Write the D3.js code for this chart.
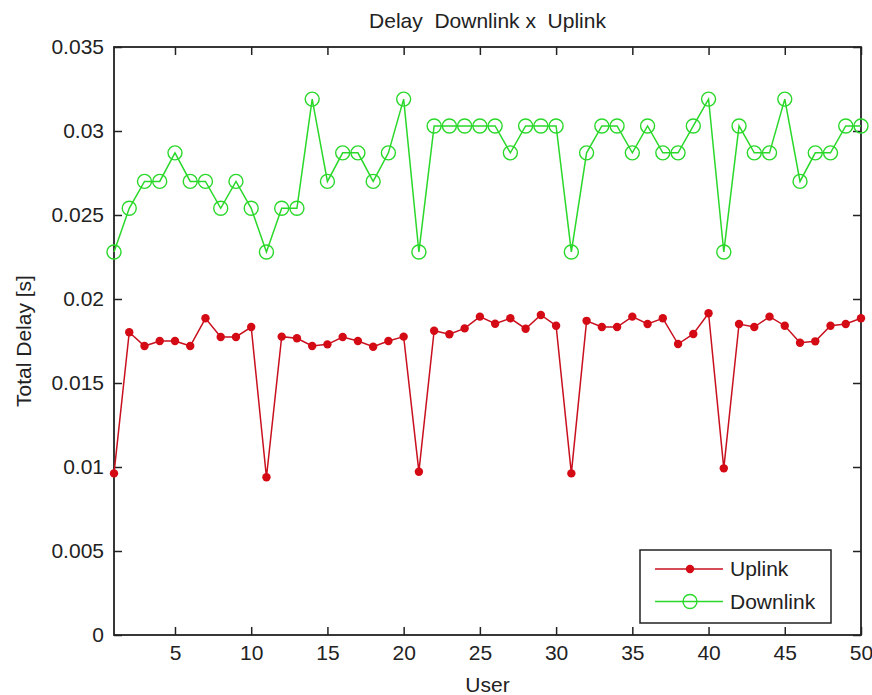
<!DOCTYPE html>
<html>
<head>
<meta charset="utf-8">
<script src="https://cdn.jsdelivr.net/npm/d3@7"></script>
<style>
  body { margin: 0; background: #fff; }
  text { font-family: "Liberation Sans", Arial, sans-serif; fill: #222; }
</style>
</head>
<body>
<div id="chart"></div>
<script>
var users = [1, 2, 3, 4, 5, 6, 7, 8, 9, 10,
  11, 12, 13, 14, 15, 16, 17, 18, 19, 20,
  21, 22, 23, 24, 25, 26, 27, 28, 29, 30,
  31, 32, 33, 34, 35, 36, 37, 38, 39, 40,
  41, 42, 43, 44, 45, 46, 47, 48, 49, 50];

var uplink = [0.00962, 0.01802, 0.01720, 0.01750, 0.01750, 0.01720, 0.01885, 0.01774, 0.01774, 0.01833,
  0.00939, 0.01776, 0.01766, 0.01720, 0.01730, 0.01774, 0.01750, 0.01716, 0.01750, 0.01776,
  0.00972, 0.01811, 0.01790, 0.01825, 0.01895, 0.01853, 0.01885, 0.01823, 0.01905, 0.01841,
  0.00962, 0.01870, 0.01833, 0.01833, 0.01895, 0.01851, 0.01885, 0.01732, 0.01792, 0.01915,
  0.00992, 0.01851, 0.01833, 0.01895, 0.01841, 0.01740, 0.01748, 0.01841, 0.01851, 0.01885];

var downlink = [0.0228, 0.0254, 0.0270, 0.0270, 0.0287, 0.0270, 0.0270, 0.0254, 0.0270, 0.0254,
  0.0228, 0.0254, 0.0254, 0.0319, 0.0270, 0.0287, 0.0287, 0.0270, 0.0287, 0.0319,
  0.0228, 0.0303, 0.0303, 0.0303, 0.0303, 0.0303, 0.0287, 0.0303, 0.0303, 0.0303,
  0.0228, 0.0287, 0.0303, 0.0303, 0.0287, 0.0303, 0.0287, 0.0287, 0.0303, 0.0319,
  0.0228, 0.0303, 0.0287, 0.0287, 0.0319, 0.0270, 0.0287, 0.0287, 0.0303, 0.0303];

var xTicks = [5, 10, 15, 20, 25, 30, 35, 40, 45, 50];
var yTicks = [0, 0.005, 0.01, 0.015, 0.02, 0.025, 0.03, 0.035];
var yTickLabels = ['0', '0.005', '0.01', '0.015', '0.02', '0.025', '0.03', '0.035'];
var seriesNames = ['Uplink', 'Downlink'];

var graph = {
  width: 872,
  height: 695,
  left: 114,
  right: 861,
  top: 47,
  bottom: 635,
  tick: 8
};

var upColor = '#d40a14';
var upLine = '#c8101e';
var downColor = '#2ad82a';

var svg = d3.select('#chart').append('svg')
  .attr('width', graph.width)
  .attr('height', graph.height);

var x = d3.scaleLinear().domain([1, 50]).range([graph.left, graph.right]);
var y = d3.scaleLinear().domain([0, 0.035]).range([graph.bottom, graph.top]);

// axes, ticks pointing inwards
svg.append('g')
  .attr('class', 'axis')
  .attr('transform', 'translate(0,' + graph.bottom + ')')
  .call(d3.axisBottom(x).tickValues(xTicks).tickSizeInner(-graph.tick).tickSizeOuter(0).tickPadding(10));

svg.append('g')
  .attr('class', 'axis')
  .attr('transform', 'translate(0,' + graph.top + ')')
  .call(d3.axisTop(x).tickValues(xTicks).tickSizeInner(-graph.tick).tickSizeOuter(0).tickFormat(''));

svg.append('g')
  .attr('class', 'axis')
  .attr('transform', 'translate(' + graph.left + ',0)')
  .call(d3.axisLeft(y).tickValues(yTicks).tickSizeInner(-graph.tick).tickSizeOuter(0).tickPadding(10)
    .tickFormat(function(d, i) { return yTickLabels[i]; }));

svg.append('g')
  .attr('class', 'axis')
  .attr('transform', 'translate(' + graph.right + ',0)')
  .call(d3.axisRight(y).tickValues(yTicks).tickSizeInner(-graph.tick).tickSizeOuter(0).tickFormat(''));

svg.selectAll('.axis .domain').remove();
svg.selectAll('.axis line').attr('stroke', '#222').attr('stroke-width', 1.5);
svg.selectAll('.axis text')
  .style('font-size', '21px')
  .style('font-family', '"Liberation Sans", Arial, sans-serif')
  .attr('fill', '#222');

svg.append('rect')
  .attr('x', graph.left)
  .attr('y', graph.top)
  .attr('width', graph.right - graph.left)
  .attr('height', graph.bottom - graph.top)
  .attr('fill', 'none')
  .attr('stroke', '#222')
  .attr('stroke-width', 1.8);

// series
var downData = users.map(function(u, i) { return { u: u, v: downlink[i] }; });
var upData = users.map(function(u, i) { return { u: u, v: uplink[i] }; });

var valueLine = d3.line()
  .x(function(d) { return x(d.u); })
  .y(function(d) { return y(d.v); });

var chartG = svg.append('g');

chartG.append('path')
  .datum(downData)
  .attr('d', valueLine)
  .attr('fill', 'none')
  .attr('stroke', downColor)
  .attr('stroke-width', 1.5);

chartG.selectAll('.down')
  .data(downData)
  .enter().append('circle')
  .attr('class', 'down')
  .attr('r', 7)
  .attr('cx', function(d) { return x(d.u); })
  .attr('cy', function(d) { return y(d.v); })
  .attr('fill', 'none')
  .attr('stroke', downColor)
  .attr('stroke-width', 1.4);

chartG.append('path')
  .datum(upData)
  .attr('d', valueLine)
  .attr('fill', 'none')
  .attr('stroke', upLine)
  .attr('stroke-width', 1.5);

chartG.selectAll('.up')
  .data(upData)
  .enter().append('circle')
  .attr('class', 'up')
  .attr('r', 4.2)
  .attr('cx', function(d) { return x(d.u); })
  .attr('cy', function(d) { return y(d.v); })
  .attr('fill', upColor);

// labels
svg.append('text')
  .attr('x', (graph.left + graph.right) / 2)
  .attr('y', 28)
  .attr('text-anchor', 'middle')
  .style('font-size', '21px')
  .text('Delay  Downlink x  Uplink')
  .attr('xml:space', 'preserve');

svg.append('text')
  .attr('x', (graph.left + graph.right) / 2)
  .attr('y', 692)
  .attr('text-anchor', 'middle')
  .style('font-size', '21px')
  .text('User');

svg.append('text')
  .attr('transform', 'translate(31,' + (graph.top + graph.bottom) / 2 + ') rotate(-90)')
  .attr('text-anchor', 'middle')
  .style('font-size', '21px')
  .text('Total Delay [s]');

// legend
var legend = svg.append('g').attr('transform', 'translate(640,550)');

legend.append('rect')
  .attr('width', 191)
  .attr('height', 73)
  .attr('fill', '#fff')
  .attr('stroke', '#222')
  .attr('stroke-width', 1.5);

var items = [
  { name: seriesNames[0], color: upColor, line: upLine, filled: true },
  { name: seriesNames[1], color: downColor, line: downColor, filled: false }
];

var item = legend.selectAll('.item')
  .data(items)
  .enter().append('g')
  .attr('class', 'item')
  .attr('transform', function(d, i) { return 'translate(0,' + (19 + i * 32.5) + ')'; });

item.append('line')
  .attr('x1', 15)
  .attr('x2', 83)
  .attr('stroke', function(d) { return d.line; })
  .attr('stroke-width', 1.5);

item.append('circle')
  .attr('cx', 50)
  .attr('r', function(d) { return d.filled ? 4.2 : 7; })
  .attr('fill', function(d) { return d.filled ? d.color : 'none'; })
  .attr('stroke', function(d) { return d.filled ? 'none' : d.color; })
  .attr('stroke-width', 1.4);

item.append('text')
  .attr('x', 90)
  .attr('dy', '0.35em')
  .style('font-size', '21px')
  .text(function(d) { return d.name; });
</script>
</body>
</html>
